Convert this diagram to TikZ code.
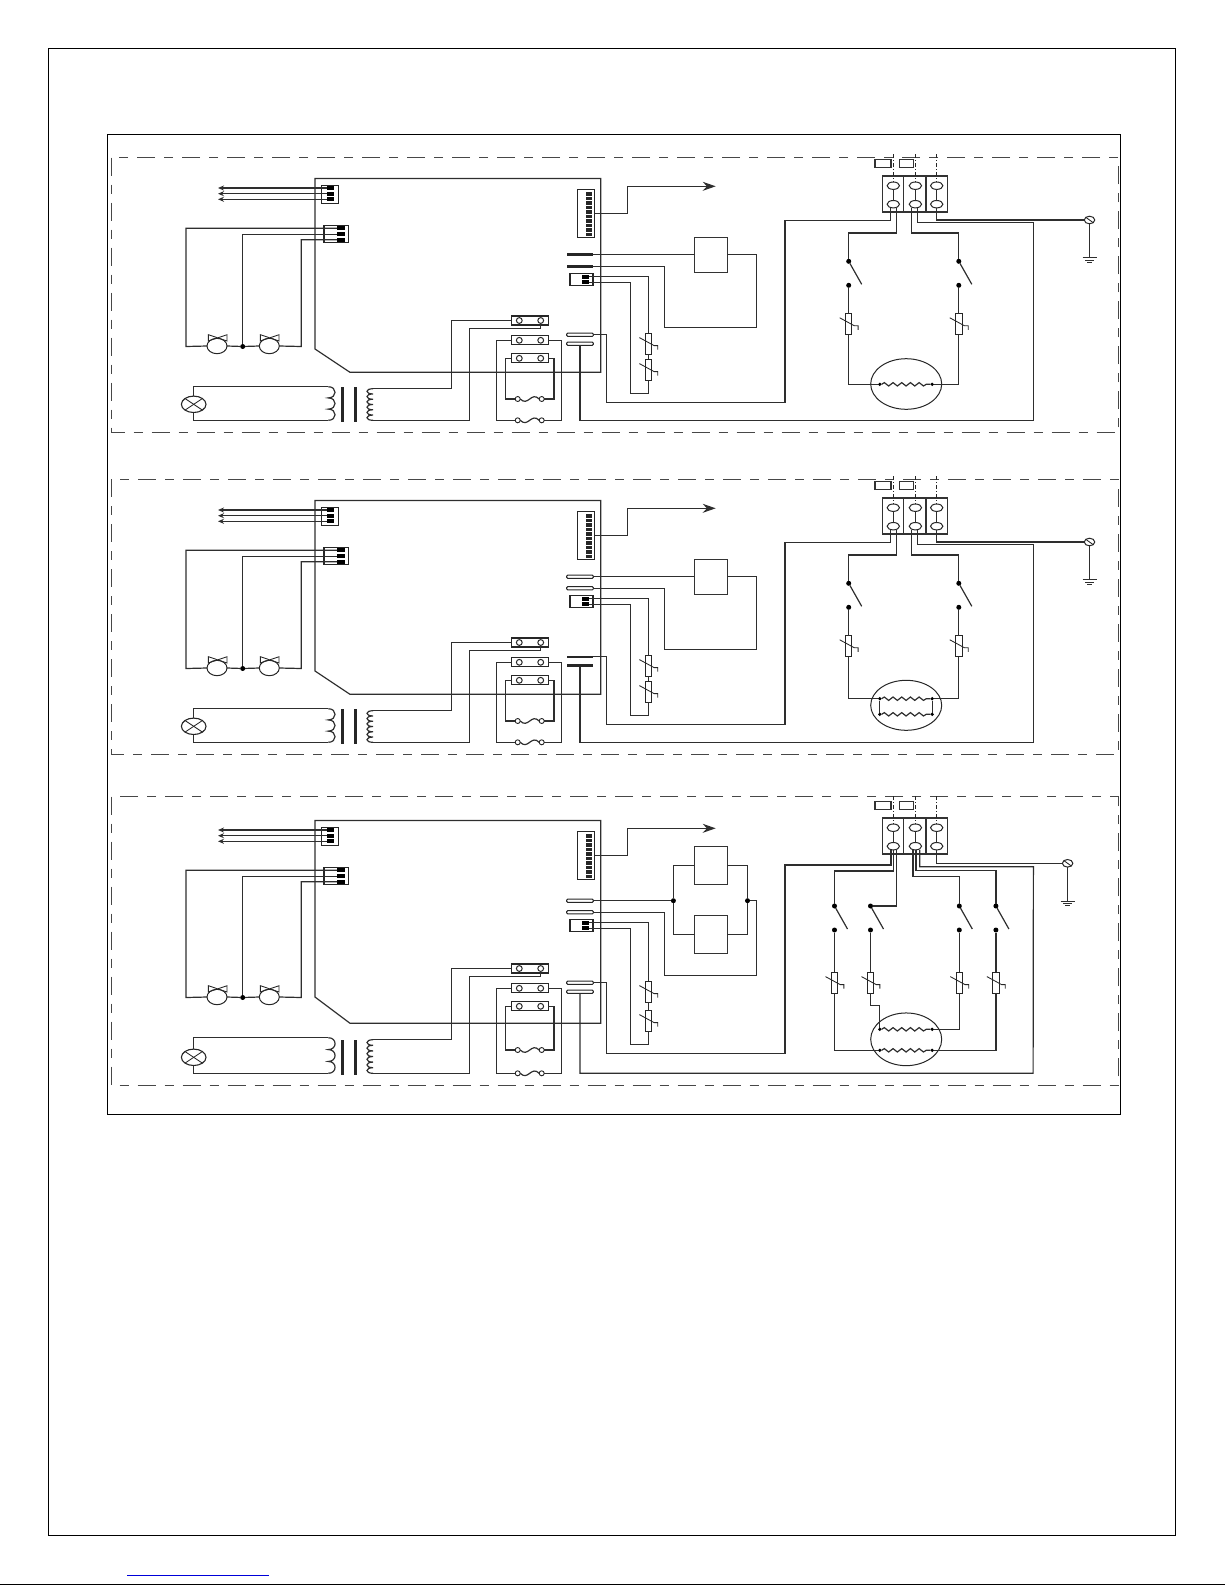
\documentclass[tikz,border=0pt]{standalone}
\usetikzlibrary{shapes.geometric}
\usetikzlibrary{decorations.pathmorphing}
\usetikzlibrary{arrows.meta}
\usetikzlibrary{calc}
\newcommand{\thermis}[3]{
\node[thermbox] (#1) at (#2,#3) {};
\draw[thinwire] (#1.center) ++(-9,-6.2) -- ++(14.7,8) -- ++(3.7,0) -- ++(0,4);
}
\newcommand{\legsw}[4]{
\node[dotnode] (#1s) at (#2,#3) {};
\node[dotnode] (#1d) at (#2,#3+24) {};
\draw[wire] (#1s) -- +(13,23);
\thermis{#1r}{#2}{#4}
\draw[wire] (#1d) -- (#1r.north);
}
\newcommand{\earthsym}[3]{
\node[earthring] (#1) at (#2,#3) {};
\draw[thinwire] (#1.north west) -- (#1.south east);
\draw[wire] (#1.south) -- ++(0,34) coordinate (#1g);
\draw[wire] (#1g) ++(-7,0) -- ++(14,0);
\draw[wire] (#1g) ++(-4.5,2.7) -- ++(9,0);
\draw[wire] (#1g) ++(-2.5,4.7) -- ++(5,0);
}
\newcommand{\fusesym}[2]{
\node[fusering] (#1l) at (517.7,#2) {};
\node[fusering] (#1r) at (541.7,#2) {};
\draw[wire] (#1l.east) .. controls +(8,8) and +(-8,-8) .. (#1r.west);
}
\begin{document}
\begin{tikzpicture}[x=1pt,y=-1pt,
every node/.style={inner sep=0pt,outer sep=0pt},
frameline/.style={line width=1.2pt,black},
panelline/.style={line width=1.1pt,black!72,dash pattern=on 18pt off 9pt on 9pt off 9pt},
wire/.style={line width=1.2pt,black!82},
thinwire/.style={line width=.85pt,black!85},
dashdot/.style={line width=.9pt,black!85,dash pattern=on 4pt off 2pt on 1pt off 2pt},
pinbox/.style={draw=black!85,line width=1.1pt,rectangle,fill=white},
pin/.style={rectangle,fill=black,minimum width=7.4pt,minimum height=4.2pt},
thermbox/.style={draw=black!85,line width=1pt,rectangle,fill=white,minimum width=6.5pt,minimum height=21pt},
dotnode/.style={circle,fill=black,minimum size=5pt},
earthring/.style={draw=black!85,line width=1pt,ellipse,fill=white,minimum width=10.5pt,minimum height=7.6pt},
fusering/.style={draw=black!85,line width=.9pt,circle,fill=white,minimum size=5pt},
relayring/.style={draw=black!85,line width=1pt,circle,fill=white,minimum size=5.8pt},
relaybar/.style={draw=black!85,line width=1.1pt,rectangle,fill=white,minimum width=36.6pt,minimum height=9pt},
termcell/.style={draw=black!80,line width=1.1pt,rectangle,minimum height=36pt},
termring/.style={draw=black!85,line width=1pt,ellipse,fill=white,minimum width=12.4pt,minimum height=7.4pt},
labelbox/.style={draw=black!80,line width=1.1pt,rectangle,minimum height=7.8pt},
coilbox/.style={draw=black!80,line width=1.2pt,rectangle,minimum width=33pt,minimum height=35pt},
tabbar/.style={rectangle,fill=black!85,minimum width=26.6pt,minimum height=2.6pt},
tabflat/.style={draw=black!85,line width=1pt,rounded corners=1pt,fill=white,minimum width=26.6pt,minimum height=3.2pt},
corebar/.style={rectangle,fill=black!85,minimum width=2.6pt,minimum height=34.5pt},
motorring/.style={draw=black!85,line width=1pt,ellipse,minimum width=71pt},
lampring/.style={draw=black!85,line width=1.1pt,ellipse,minimum width=24.6pt,minimum height=16.4pt},
valvering/.style={draw=black!85,line width=1pt,ellipse,minimum width=20pt,minimum height=15.4pt},
winding/.style={wire,decorate,decoration={snake,amplitude=1.7pt,segment length=8.7pt}}]
\useasboundingbox (0,0) rectangle (1225,1585);
\draw[frameline] (48.7,48.3) rectangle (1175.4,1535.3);
\draw[frameline] (107.3,134.3) rectangle (1120.3,1114.3);
\draw[panelline] (111.7,157.7) rectangle (1118.4,432.7);
\draw[panelline] (111.7,479.3) rectangle (1118.4,754.7);
\draw[panelline] (111.7,796.7) rectangle (1118.4,1085.7);
\draw[line width=1pt,blue!85!black] (127,1575) -- (269,1575);
\draw[line width=1.2pt,black] (0,1584.3) -- (1225,1584.3);
\coordinate (jta) at (785,220.7);
\coordinate (jtb) at (785,542.7);
\coordinate (jtc) at (785,865);
\coordinate (jqa) at (1033.1,222.7);
\coordinate (jqb) at (1033.1,544.7);
\coordinate (jqc) at (1033.4,866.7);
\foreach \p/\ya/\yb/\yc/\yd/\ye/\tga/\tgb/\xa/\xb in {a/0/0/0/0/0/tabbar/tabflat/-3/2,b/322/322/322/322/322/tabflat/tabbar/-3/2,c/642/646/648/651/653/tabflat/tabflat/-2.3/4.3}{
\begin{scope}[shift={(0,\ya)}]
\coordinate (pa\p) at (315,178.5);
\coordinate (pb\p) at (600.7,178.5);
\node[pinbox,minimum width=17.3pt,minimum height=18.3pt] (cna\p) at (329.7,194.2) {};
\node[pin] (a1\p) at (330.3,188) {};
\node[pin] (a2\p) at (330.3,193.7) {};
\node[pin] (a3\p) at (330.3,199.3) {};
\foreach \i/\y in {1/188,2/193.7,3/199.3}{
\coordinate (ar\i\p) at (218,\y);
\draw[wire,-{Stealth[length=6pt,width=5pt]}] (a\i\p.west) -- (ar\i\p);
}
\node[pinbox,minimum width=24.7pt,minimum height=17pt] (cnb\p) at (336.3,233.8) {};
\node[pin] (b1\p) at (340.8,228.3) {};
\node[pin] (b2\p) at (340.8,234.1) {};
\node[pin] (b3\p) at (340.8,239.7) {};
\node[pinbox,minimum width=17.4pt,minimum height=48.4pt] (st\p) at (586,213.5) {};
\foreach \k in {0,...,9}
\fill[black!85] (586,192+\k*4.5) rectangle ++(6,3.5);
\coordinate (arb\p) at (715.7,186.3);
\draw[wire,-{Stealth[length=13pt,width=9pt]}] (st\p.east) -- (627.1,213.5) |- (arb\p);
\foreach \i/\x/\w in {1/893/21.3,2/914.8/22.3,3/936.9/21.7}
\node[termcell,minimum width=\w pt] (t\i\p) at (\x,194) {};
\foreach \i/\x in {1/893.3,2/915.4,3/936.7}{
\node[termring] (tp\i\p) at (\x,185.7) {};
\node[termring] (bt\i\p) at (\x,204.2) {};
\coordinate (dd\i\p) at (\x,154);
\draw[dashdot] (dd\i\p) -- (tp\i\p.north);
\draw[wire] (tp\i\p.south) -- (bt\i\p.north);
}
\node[labelbox,minimum width=16pt] (lb1\p) at (883,163.2) {};
\node[labelbox,minimum width=14pt] (lb2\p) at (906.3,163.2) {};
\end{scope}
\begin{scope}[shift={(0,\yb)}]
\node[\tga] (ta1\p) at (580,254.7) {};
\node[\tga] (ta2\p) at (580,266.3) {};
\node[pinbox,minimum width=23pt,minimum height=12pt] (cnc\p) at (581.5,279.3) {};
\node[pin] (c1\p) at (585.6,276.7) {};
\node[pin] (c2\p) at (585.6,282.3) {};
\end{scope}
\begin{scope}[shift={(0,\yc)}]
\coordinate (pe\p) at (315,349);
\foreach \r/\y in {a/320.5,b/340.3,c/358.3}{
\node[relaybar] (rl\r\p) at (530,\y) {};
\node[relayring] (rl\r1\p) at (519.3,\y) {};
\node[relayring] (rl\r2\p) at (540.7,\y) {};
}
\coordinate (je\p) at (469.7,328.7);
\node[\tgb] (tb1\p) at (580,334.8) {};
\node[\tgb] (tb2\p) at (580,343.7) {};
\thermis{th1\p}{648.4}{343.8}
\end{scope}
\begin{scope}[shift={(0,\yd)}]
\coordinate (pc\p) at (600.7,372.3);
\coordinate (pd\p) at (350,372.3);
\node[valvering] (v1\p) at (217,346) {};
\node[valvering] (v2\p) at (269.3,346) {};
\foreach \x in {217.7,269.7}
\draw[thinwire] (\x-9.3,334.7) -- (\x+9.3,341) -- (\x+9.3,334.7) -- (\x-9.3,341) -- cycle;
\node[dotnode] (vd\p) at (242.7,346.5) {};
\coordinate (jl\p) at (186,346.5);
\coordinate (jr\p) at (301.3,346.5);
\thermis{th2\p}{648.4}{369.8}
\coordinate (jc\p) at (630.5,393.3);
\coordinate (jb\p) at (606.7,402.3);
\coordinate (jd\p) at (451.7,388.7);
\coordinate (cs1\p) at (373,388.7);
\coordinate (cp1\p) at (328.3,386.7);
\fusesym{fi\p}{399}
\coordinate (jh\p) at (505.7,399);
\coordinate (ji\p) at (554,399);
\end{scope}
\begin{scope}[shift={(0,\ye)}]
\node[lampring] (lamp\p) at (193.7,404.3) {};
\coordinate (cp2\p) at (328.3,420.3);
\coordinate (cs2\p) at (373,420.3);
\node[corebar] (cr1\p) at (342.3,404.3) {};
\node[corebar] (cr2\p) at (355.7,404.3) {};
\fusesym{fo\p}{420.3}
\coordinate (jf\p) at (496.7,420.3);
\coordinate (jg\p) at (561.7,420.3);
\coordinate (jp\p) at (1033.1,420.3);
\end{scope}
\draw[wire] (pa\p) -- (pb\p) -- (pc\p) -- (pd\p) -- (pe\p) -- cycle;
\draw[wire] (b1\p.west) -| (jl\p) -- (v1\p.west);
\draw[wire] (b2\p.west) -| (vd\p);
\draw[wire] (b3\p.west) -| (jr\p) -- (v2\p.east);
\draw[wire] (v1\p.east) -- (vd\p) -- (v2\p.west);
\draw[wire] (lamp\p.north) |- (cp1\p);
\draw[wire] (lamp\p.south) |- (cp2\p);
\draw[thinwire] (lamp\p.north west) -- (lamp\p.south east);
\draw[thinwire] (lamp\p.north east) -- (lamp\p.south west);
\draw[wire] (cp1\p) foreach \k in {1,2,3} { .. controls +(9,0) and +(9,0) .. ($(cp1\p)!\k/3!(cp2\p)$) };
\draw[wire] (cs1\p) foreach \k in {1,...,6} { .. controls +(-8,0) and +(-8,0) .. ($(cs1\p)!\k/6!(cs2\p)$) };
\draw[wire] (rla\p.west) -| (jd\p) -- (cs1\p);
\draw[wire] (rla2\p.south) |- (je\p) |- (cs2\p);
\draw[wire] (rlb\p.west) -| (jf\p) -- (fo\p l.west);
\draw[wire] (fo\p r.east) -- (jg\p) |- (rlb\p.east);
\draw[wire] (rlc\p.west) -| (jh\p) -- (fi\p l.west);
\draw[wire] (fi\p r.east) -- (ji\p) |- (rlc\p.east);
\draw[wire] (c1\p.east) -| (th1\p.north);
\draw[wire] (th1\p.south) -- (th2\p.north);
\draw[wire] (th2\p.south) |- (jc\p) |- (c2\p.east);
\draw[wire] (tb1\p.east) -| (jb\p) -| (jt\p) -| ([xshift=\xa pt]bt1\p.south);
\draw[wire] (tb2\p.south) |- (jp\p) -- (jq\p) -| ([xshift=\xb pt]bt2\p.south);
}
\foreach \p/\dy in {a/0,b/322}{
\begin{scope}[shift={(0,\dy)}]
\node[coilbox] (k\p) at (710.8,254.7) {};
\coordinate (jk\p) at (756.6,327.3);
\legsw{l1\p}{848.7}{261.3}{324}
\legsw{l2\p}{958.8}{261.3}{324}
\coordinate (ju1\p) at (848.7,233);
\coordinate (ju2\p) at (958.8,233);
\earthsym{e\p}{1089.5}{220}
\end{scope}
\draw[wire] (ta1\p.east) -- (k\p.west);
\draw[wire] (k\p.east) -| (jk\p) -- (664.7,327.3+\dy) |- (ta2\p.east);
\draw[wire] ([xshift=3.3pt]bt1\p.south) |- (ju1\p) -- (l1\p s);
\draw[wire] ([xshift=-4pt]bt2\p.south) |- (ju2\p) -- (l2\p s);
\draw[wire] (bt3\p.south) |- (e\p.west);
}
\node[motorring,minimum height=50.6pt] (ma) at (906.2,384) {};
\node[dotnode,minimum size=3.6pt] (md1a) at (879.8,384.3) {};
\node[dotnode,minimum size=3.6pt] (md2a) at (932.2,384.3) {};
\draw[winding] (md1a) -- (md2a);
\draw[wire] (l1ar.south) |- (md1a);
\draw[wire] (l2ar.south) |- (md2a);
\node[motorring,minimum height=50pt] (mb) at (906.2,705.3) {};
\node[dotnode,minimum size=3.6pt] (md1b) at (879.8,698.7) {};
\node[dotnode,minimum size=3.6pt] (md2b) at (932.2,698.7) {};
\node[dotnode,minimum size=3.6pt] (md3b) at (879.8,714.3) {};
\node[dotnode,minimum size=3.6pt] (md4b) at (932.2,714.3) {};
\draw[winding] (md1b) -- (md2b);
\draw[winding] (md3b) -- (md4b);
\draw[wire] (md1b) -- (md3b);
\draw[wire] (md2b) -- (md4b);
\draw[wire] (l1br.south) |- (md1b);
\draw[wire] (l2br.south) |- (md2b);
\node[coilbox,minimum height=37.6pt] (k1c) at (710.8,865.5) {};
\node[coilbox,minimum height=37.6pt] (k2c) at (710.8,934.5) {};
\node[dotnode] (jn1c) at (673.4,900.7) {};
\node[dotnode] (jn2c) at (747.5,900.7) {};
\coordinate (jkc) at (756.6,975.3);
\draw[wire] (ta1c.east) -- (jn1c);
\draw[wire] (jn1c) |- (k1c.west);
\draw[wire] (jn1c) |- (k2c.west);
\draw[wire] (jn2c) |- (k1c.east);
\draw[wire] (jn2c) |- (k2c.east);
\draw[wire] (jn2c) -| (jkc) -- (664.7,975.3) |- (ta2c.east);
\legsw{l1c}{834.5}{906}{982.8}
\legsw{l2c}{870.5}{906}{982.8}
\legsw{l3c}{959.3}{906}{982.8}
\legsw{l4c}{995.9}{906}{982.8}
\coordinate (ju1c) at (834.5,871);
\coordinate (ju3c) at (959.3,876.7);
\coordinate (ju4c) at (995.9,870.7);
\draw[wire] (bt1c.south) |- (ju1c) -- (l1cs);
\draw[wire] ([xshift=3.3pt]bt1c.south) |- (l2cs);
\draw[wire] ([xshift=-2.4pt]bt2c.south) |- (ju3c) -- (l3cs);
\draw[wire] ([xshift=.6pt]bt2c.south) |- (ju4c) -- (l4cs);
\node[motorring,minimum height=52.7pt] (mc) at (906.2,1039.3) {};
\node[dotnode,minimum size=3.6pt] (md1c) at (879.8,1029.3) {};
\node[dotnode,minimum size=3.6pt] (md2c) at (932.2,1029.3) {};
\node[dotnode,minimum size=3.6pt] (md3c) at (879.8,1050.3) {};
\node[dotnode,minimum size=3.6pt] (md4c) at (932.2,1050.3) {};
\draw[winding] (md1c) -- (md2c);
\draw[winding] (md3c) -- (md4c);
\coordinate (jmc) at (879.8,1005.7);
\draw[wire] (l1cr.south) |- (md3c);
\draw[wire] (l2cr.south) |- (jmc) -- (md1c);
\draw[wire] (l3cr.south) |- (md2c);
\draw[wire] (l4cr.south) |- (md4c);
\earthsym{ec}{1067.6}{863.3}
\draw[wire] (bt3c.south) |- (ec.west);
\end{tikzpicture}
\end{document}
